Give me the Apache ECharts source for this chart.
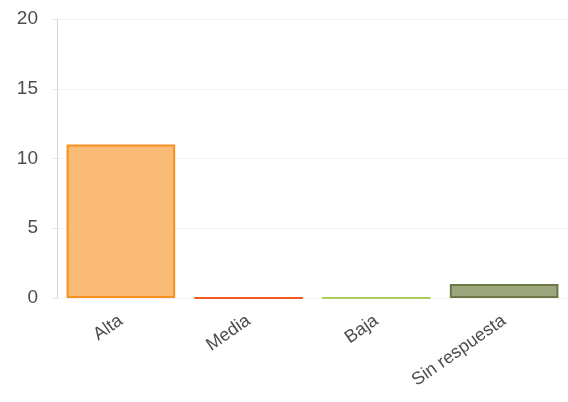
<!DOCTYPE html>
<html>
<head>
<meta charset="utf-8">
<script src="https://cdn.jsdelivr.net/npm/echarts@6/dist/echarts.min.js"></script>
<style>
  html, body { margin: 0; padding: 0; background: #fff; }
  #chart { width: 568px; height: 402px; }
</style>
</head>
<body>
<div id="chart"></div>
<script>
const categories = ['Alta', 'Media', 'Baja', 'Sin respuesta']
const values = [11, 0, 0, 1]
const yTicks = [0, 5, 10, 15, 20]

const fills = ['#f9bb76', '#f05a22', '#a6cf5a', '#9ba67c']
const borders = ['#f7901e', '#f05a22', '#a6cf5a', '#6c7846']

const chart = echarts.init(document.getElementById('chart'), null, { renderer: 'canvas' })

chart.setOption({
    animation: false,
    grid: { left: 57, right: -4, top: 19, bottom: 104 },
    xAxis: {
        type: 'category',
        data: categories,
        axisLine: { show: false },
        axisTick: { show: false },
        axisLabel: {
            interval: 0,
            rotate: 35,
            margin: 21,
            fontFamily: 'Liberation Sans, Arial, sans-serif',
            fontSize: 18,
            color: '#4d4d4d'
        }
    },
    yAxis: {
        type: 'value',
        min: yTicks[0],
        max: yTicks[yTicks.length - 1],
        interval: 5,
        axisLine: { show: true, lineStyle: { color: '#d8d8d8', width: 1 } },
        axisTick: { show: true, length: 4, lineStyle: { color: '#e4e4e4' } },
        splitLine: { show: true, lineStyle: { color: '#f3f3f3' } },
        axisLabel: {
            margin: 19,
            fontFamily: 'Liberation Sans, Arial, sans-serif',
            fontSize: 19,
            color: '#4d4d4d'
        }
    },
    series: [{
        type: 'bar',
        barWidth: '85%',
        data: values.map((v, i) => ({
            value: v,
            itemStyle: { color: fills[i], borderColor: borders[i], borderWidth: 2 }
        }))
    }]
})
</script>
</body>
</html>
